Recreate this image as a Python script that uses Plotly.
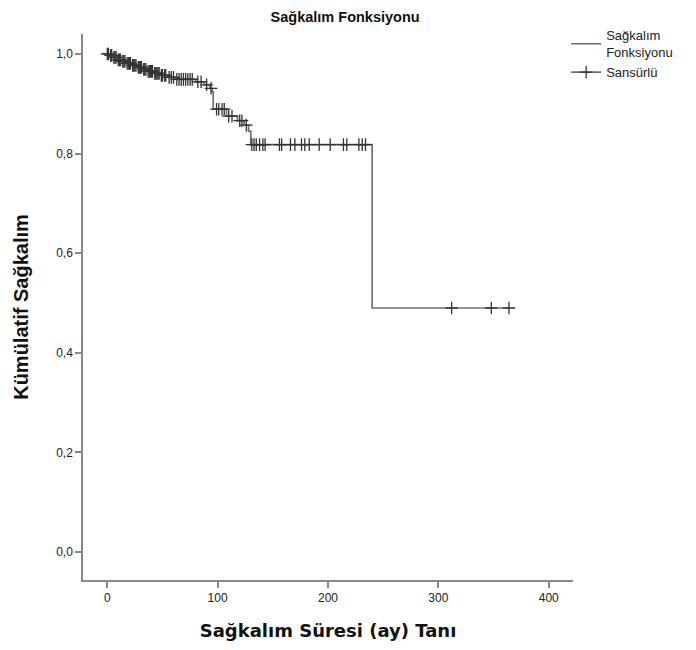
import plotly.graph_objects as go

# Kaplan-Meier step function (event times and survival after each drop)
event_times = [0, 2, 5, 9, 13, 17, 22, 27, 32, 36, 42, 48, 55, 62, 80, 88, 93, 95, 96,
               108, 118, 124, 128, 130, 240, 365]
survival = [1.0, 0.997, 0.993, 0.988, 0.985, 0.981, 0.977, 0.973, 0.969, 0.965, 0.961,
            0.957, 0.953, 0.949, 0.944, 0.938, 0.931, 0.924, 0.889, 0.875, 0.866, 0.857,
            0.845, 0.818, 0.490, 0.490]

# Censored observation times
censored_times = [0, 1, 3, 4, 6, 7, 8, 10, 11, 12, 14, 15, 16, 18, 19, 20, 21, 23, 24, 25,
                  26, 28, 29, 30, 31, 33, 34, 35, 37, 38, 39, 40, 41, 43, 44, 45, 46, 47,
                  49, 50, 52, 53, 56, 58, 60, 63, 65, 67, 69, 71, 73, 75, 77, 82, 85, 90,
                  94, 99, 101, 104, 106, 110, 113, 120, 122, 126, 131, 133, 135, 138, 141,
                  143, 156, 158, 166, 170, 176, 179, 183, 192, 202, 214, 217, 228, 231, 234,
                  312, 348, 364]


def s_at(t):
    val = survival[0]
    for et, sv in zip(event_times, survival):
        if et <= t:
            val = sv
    return val


censored_surv = [s_at(t) for t in censored_times]

fig = go.Figure()
fig.add_trace(go.Scatter(
    x=event_times, y=survival, mode="lines", line_shape="hv",
    line=dict(color="#707070", width=1.7),
    name="Sağkalım<br>Fonksiyonu", hoverinfo="x+y"))
fig.add_trace(go.Scatter(
    x=censored_times, y=censored_surv, mode="markers",
    marker=dict(symbol="cross-thin", size=9, line=dict(color="#333333", width=1.3)),
    showlegend=False))
fig.add_trace(go.Scatter(
    x=[None], y=[None], mode="lines+markers",
    line=dict(color="#707070", width=1.6),
    marker=dict(symbol="cross-thin", size=9, line=dict(color="#333333", width=1.3)),
    name="Sansürlü"))

axis_font = dict(family="Liberation Sans, Arial, sans-serif", size=12, color="#222222")

fig.update_layout(
    width=688, height=642,
    margin=dict(l=72, r=123, t=24, b=70),
    paper_bgcolor="white", plot_bgcolor="white",
    separators=",.",
    title=dict(text="<b>Sağkalım Fonksiyonu</b>", x=0.49, xanchor="center", y=0.986,
               yanchor="middle",
               font=dict(family="Liberation Sans, Arial, sans-serif", size=14.5, color="#111111")),
    showlegend=True,
    legend=dict(x=0.986, y=1.025, xanchor="left", yanchor="top",
                font=dict(family="Liberation Sans, Arial, sans-serif", size=13, color="#222222"),
                bgcolor="rgba(0,0,0,0)", tracegroupgap=0, itemwidth=30),
    xaxis=dict(range=[-22, 422], tickvals=[0, 100, 200, 300, 400],
               showline=True, linecolor="#888888", linewidth=1.5,
               ticks="outside", ticklen=6, tickcolor="#888888", tickwidth=1.5,
               showgrid=False, zeroline=False, tickfont=axis_font,
               title=dict(text="<b>Sağkalım Süresi (ay) Tanı</b>", standoff=20,
                          font=dict(family="DejaVu Sans, sans-serif", size=18,
                                    color="#111111"))),
    yaxis=dict(range=[-0.056, 1.04], tickvals=[0, 0.2, 0.4, 0.6, 0.8, 1.0], tickformat=".1f",
               showline=True, linecolor="#888888", linewidth=1.5,
               ticks="outside", ticklen=6, tickcolor="#888888", tickwidth=1.5,
               showgrid=False, zeroline=False, tickfont=axis_font,
               title=dict(text="<b>Kümülatif Sağkalım</b>", standoff=22,
                          font=dict(family="Liberation Sans, Arial, sans-serif", size=20,
                                    color="#111111"))),
)

fig.write_html("out.html")
